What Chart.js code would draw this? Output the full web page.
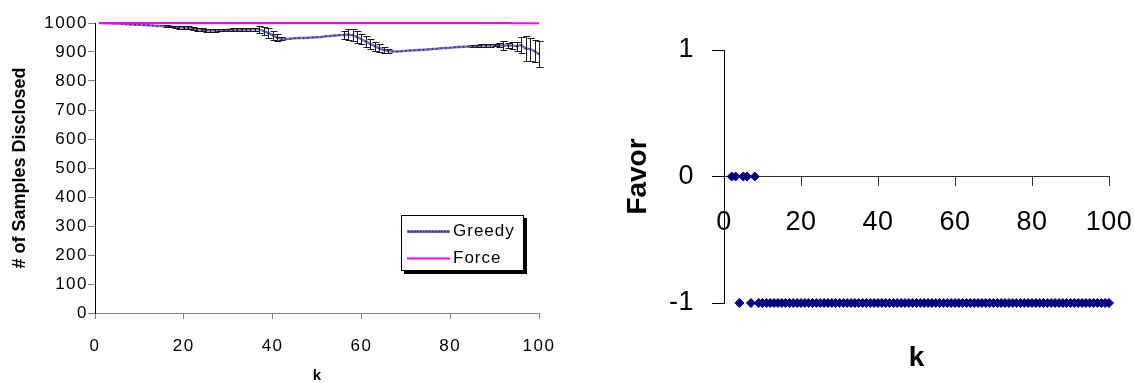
<!DOCTYPE html>
<html>
<head>
<meta charset="utf-8">
<script src="https://cdn.jsdelivr.net/npm/chart.js@4.4.0/dist/chart.umd.min.js"></script>
<style>
  html, body { margin: 0; padding: 0; background: #fff; }
  #wrap { position: relative; width: 1134px; height: 383px; }
  .panel { position: absolute; top: 0; height: 383px; }
  #left { left: 0; width: 560px; }
  #right { left: 560px; width: 574px; }
</style>
</head>
<body>
<div id="wrap">
  <div class="panel" id="left"><canvas id="disclosedChart"></canvas></div>
  <div class="panel" id="right"><canvas id="favorChart"></canvas></div>
</div>
<script>
"use strict";

/* =========================================================================
  Data
=========================================================================== */
const kValues = Array.from({ length: 100 }, (_, i) => i + 1);

// Greedy: mean samples disclosed per k, and error bar half-height
const greedy = [
  1000, 999, 999, 998, 998, 997, 996, 995, 994, 994,
  993, 992, 991, 990, 990, 989, 988, 986, 985, 984,
  983, 981, 979, 977, 975, 974, 974, 975, 976, 976,
  977, 977, 977, 978, 978, 979, 978, 972, 966, 958,
  950, 946, 945, 946, 947, 948, 948, 949, 950, 951,
  952, 954, 955, 957, 958, 959, 960, 958, 952, 944,
  936, 928, 920, 913, 907, 904, 902, 902, 903, 904,
  905, 906, 907, 908, 909, 910, 911, 913, 914, 915,
  916, 917, 918, 919, 920, 921, 922, 922, 923, 924,
  924, 922, 923, 922, 920, 924, 912, 910, 903, 892,
];
const greedyErr = [
  0, 0, 0, 0, 0, 0, 0, 0, 0, 0,
  0, 0, 0, 0, 0, 3, 3, 3, 4, 4,
  5, 5, 5, 5, 5, 5, 4, 4, 4, 4,
  5, 5, 5, 5, 5, 5, 12, 15, 16, 16,
  13, 6, 0, 0, 0, 0, 0, 0, 0, 0,
  0, 0, 0, 0, 0, 15, 18, 20, 20, 18,
  18, 18, 16, 14, 10, 6, 0, 0, 0, 0,
  0, 0, 0, 0, 0, 0, 0, 0, 0, 0,
  0, 0, 0, 0, 4, 4, 5, 5, 5, 5,
  8, 16, 8, 12, 16, 28, 43, 40, 38, 45,
];
const force = [
  1000, 1000, 1000, 1000, 1000, 1000, 1000, 1000, 1000, 1000,
  1000, 1000, 1000, 1000, 1000, 1000, 1000, 1000, 1000, 1000,
  1000, 1000, 1000, 1000, 1000, 1000, 1000, 1000, 1000, 1000,
  1000, 1000, 1000, 1000, 1000, 1000, 1000, 1000, 1000, 1000,
  1000, 1000, 1000, 1000, 1000, 1000, 1000, 1000, 1000, 1000,
  1000, 1000, 1000, 1000, 1000, 1000, 1000, 1000, 1000, 1000,
  1000, 1000, 1000, 1000, 1000, 1000, 1000, 1000, 1000, 1000,
  1000, 1000, 1000, 1000, 1000, 1000, 1000, 1000, 1000, 1000,
  1000, 1000, 1000, 1000, 1000, 1000, 1000, 1000, 1000, 1000,
  1000, 1000, 1000, 999, 999, 999, 999, 999, 999, 999,
];

// Favor per k (k = 2..100)
const favorK = kValues.slice(1);
const favorValues = [
  0, 0, -1, 0, 0, -1, 0, -1, -1,
  -1, -1, -1, -1, -1, -1, -1, -1, -1, -1,
  -1, -1, -1, -1, -1, -1, -1, -1, -1, -1,
  -1, -1, -1, -1, -1, -1, -1, -1, -1, -1,
  -1, -1, -1, -1, -1, -1, -1, -1, -1, -1,
  -1, -1, -1, -1, -1, -1, -1, -1, -1, -1,
  -1, -1, -1, -1, -1, -1, -1, -1, -1, -1,
  -1, -1, -1, -1, -1, -1, -1, -1, -1, -1,
  -1, -1, -1, -1, -1, -1, -1, -1, -1, -1,
  -1, -1, -1, -1, -1, -1, -1, -1, -1, -1,
];

/* =========================================================================
  Plugins
=========================================================================== */
const FONT = '"Liberation Sans", Arial, sans-serif';
const plainNumber = (v) => String(v);

// tick labels sit on a layer above the datasets (ticks.z = 1),
// so the spacing set after datasets only reaches them
function tickSpacing(spacing) {
  return {
    id: "tickSpacing",
    beforeDraw(chart) {
      chart.ctx.letterSpacing = "0px";
    },
    afterDatasetsDraw(chart) {
      chart.ctx.letterSpacing = spacing;
    },
  };
}

const errorBars = {
  id: "errorBars",
  afterDatasetsDraw(chart) {
    const { ctx, scales: { x, y } } = chart;
    ctx.save();
    ctx.strokeStyle = "#1a1a1a";
    ctx.lineWidth = 1;
    ctx.beginPath();
    kValues.forEach((k, i) => {
      const e = greedyErr[i];
      if (!e) return;
      const px = Math.round(x.getPixelForValue(k)) + 0.5;
      const top = Math.round(y.getPixelForValue(greedy[i] + e)) + 0.5;
      const bot = Math.round(y.getPixelForValue(greedy[i] - e)) + 0.5;
      ctx.moveTo(px, top);
      ctx.lineTo(px, bot);
      ctx.moveTo(px - 3, top);
      ctx.lineTo(px + 4, top);
      ctx.moveTo(px - 3, bot);
      ctx.lineTo(px + 4, bot);
    });
    ctx.stroke();
    ctx.restore();
  },
};

const insetLegend = {
  id: "insetLegend",
  afterDraw(chart) {
    const { ctx } = chart;
    const bx = 401, by = 215, bw = 123, bh = 56;
    ctx.save();
    ctx.letterSpacing = "1px";
    ctx.fillStyle = "#000";
    ctx.fillRect(bx + 3, by + 3, bw, bh);
    ctx.fillStyle = "#fff";
    ctx.fillRect(bx, by, bw, bh);
    ctx.strokeStyle = "#000";
    ctx.lineWidth = 1;
    ctx.strokeRect(bx + 0.5, by + 0.5, bw - 1, bh - 1);

    const rows = [by + 16, by + 43];
    chart.data.datasets.forEach((ds, i) => {
      const ly = rows[i] + 0.5;
      ctx.strokeStyle = ds.borderColor;
      ctx.lineWidth = ds.pointRadius ? 3 : ds.borderWidth;
      ctx.beginPath();
      ctx.moveTo(bx + 6, ly);
      ctx.lineTo(bx + 49, ly);
      ctx.stroke();
      if (ds.pointRadius) {
        ctx.fillStyle = ds.pointBackgroundColor;
        for (let px = bx + 7; px < bx + 49; px += 3) ctx.fillRect(px, ly - 0.5, 1.5, 1.5);
      }
      ctx.fillStyle = "#000";
      ctx.font = `17px ${FONT}`;
      ctx.textBaseline = "middle";
      ctx.fillText(ds.label, bx + 52, ly);
    });
    ctx.restore();
  },
};

/* =========================================================================
  Samples disclosed vs k
=========================================================================== */
new Chart(document.getElementById("disclosedChart"), {
  type: "line",
  data: {
    labels: kValues,
    datasets: [
      {
        label: "Greedy",
        data: greedy,
        borderColor: "#7474c4",
        borderWidth: 2.5,
        pointStyle: "rect",
        pointRadius: 1,
        pointBackgroundColor: "#24245a",
        pointBorderWidth: 0,
        clip: 5,
        order: 1,
      },
      {
        label: "Force",
        data: force,
        borderColor: "#ff00ff",
        borderWidth: 2,
        pointRadius: 0,
        clip: 5,
        order: 0,
      },
    ],
  },
  options: {
    responsive: true,
    maintainAspectRatio: false,
    animation: false,
    layout: { padding: { top: 23, right: 21, bottom: 0, left: 0 } },
    plugins: { legend: { display: false }, tooltip: { enabled: false } },
    scales: {
      x: {
        type: "linear",
        min: 0,
        max: 100,
        ticks: { stepSize: 20, z: 1, padding: 17, color: "#000", callback: plainNumber, font: { family: FONT, size: 17 } },
        grid: { drawOnChartArea: false, tickLength: 6, tickColor: "#808080" },
        border: { color: "#808080" },
        title: {
          display: true,
          text: "k",
          color: "#000",
          padding: 0,
          font: { family: FONT, size: 15, weight: "bold", lineHeight: 1 },
        },
        afterFit(s) {
          s.height = 70;
          s.paddingLeft = 0;
          s.paddingRight = 0;
        },
      },
      y: {
        min: 0,
        max: 1000,
        ticks: { stepSize: 100, z: 1, padding: 0, color: "#000", callback: plainNumber, font: { family: FONT, size: 17 } },
        grid: { drawOnChartArea: false, tickLength: 7, tickColor: "#808080" },
        border: { color: "#000" },
        title: {
          display: true,
          text: "# of Samples Disclosed",
          color: "#000",
          padding: { top: 9, bottom: 0 },
          font: { family: FONT, size: 18, weight: "bold" },
        },
        afterFit(s) {
          s.width = 95;
          s.paddingTop = 0;
          s.paddingBottom = 0;
        },
      },
    },
  },
  plugins: [tickSpacing("1.5px"), errorBars, insetLegend],
});

/* =========================================================================
  Favor vs k
=========================================================================== */
new Chart(document.getElementById("favorChart"), {
  type: "scatter",
  data: {
    datasets: [
      {
        label: "Favor",
        data: favorK.map((k, i) => ({ x: k, y: favorValues[i] })),
        pointStyle: "rectRot",
        pointRadius: 4.5,
        backgroundColor: "#000080",
        borderColor: "#000080",
        borderWidth: 1,
        clip: 8,
      },
    ],
  },
  options: {
    responsive: true,
    maintainAspectRatio: false,
    animation: false,
    layout: { padding: { top: 50, right: 25, bottom: 80, left: 0 } },
    plugins: { legend: { display: false }, tooltip: { enabled: false } },
    scales: {
      x: {
        type: "linear",
        position: { y: 0 },
        min: 0,
        max: 100,
        ticks: { stepSize: 20, z: 1, padding: 21, color: "#000", callback: plainNumber, font: { family: FONT, size: 27 } },
        grid: { drawOnChartArea: false, tickLength: 9, tickColor: "#333" },
        border: { color: "#333" },
        title: {
          display: true,
          text: "k",
          color: "#000",
          padding: 0,
          font: { family: FONT, size: 28, weight: "bold" },
        },
        afterFit(s) {
          s.height = 199;
          s.paddingLeft = 0;
          s.paddingRight = 0;
        },
      },
      y: {
        min: -1,
        max: 1,
        ticks: { stepSize: 1, z: 1, padding: 18, color: "#000", callback: plainNumber, font: { family: FONT, size: 27 } },
        grid: { drawOnChartArea: false, tickLength: 12, tickColor: "#000" },
        border: { color: "#000" },
        title: {
          display: true,
          text: "Favor",
          color: "#000",
          padding: { top: 61, bottom: 0 },
          font: { family: FONT, size: 28, weight: "bold" },
        },
        afterFit(s) {
          s.width = 164;
          s.paddingTop = 0;
          s.paddingBottom = 0;
        },
      },
    },
  },
  plugins: [tickSpacing("0.5px")],
});
</script>
</body>
</html>
